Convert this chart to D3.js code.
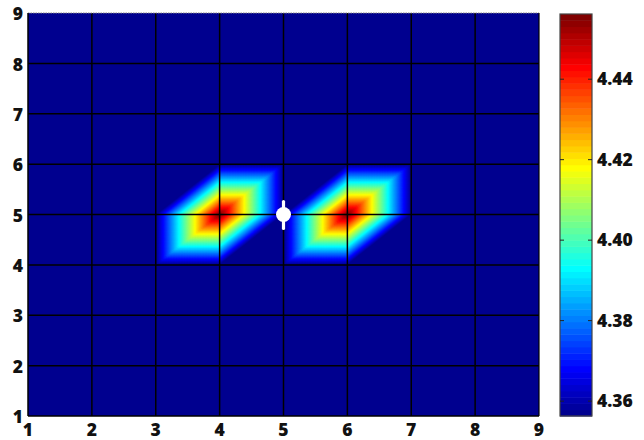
<!DOCTYPE html>
<html>
<head>
<meta charset="utf-8">
<script src="https://cdn.jsdelivr.net/npm/d3@7"></script>
<style>
  html, body { margin: 0; padding: 0; background: #fff; }
  svg { display: block; }
  text { font-family: "Open Sans", "Liberation Sans", sans-serif; font-weight: 800; font-size: 17.5px; fill: #111; }
</style>
</head>
<body>
<svg id="chart" width="644" height="440"></svg>
<script>
// Mesh nodes and field values (rows go from y = 1 upward to y = 9)
const gridX = [1, 2, 3, 4, 5, 6, 7, 8, 9];
const gridY = [1, 2, 3, 4, 5, 6, 7, 8, 9];
const B = 4.3563, P = 4.4562;
const zRows = [
  [B, B, B, B, B, B, B, B, B],
  [B, B, B, B, B, B, B, B, B],
  [B, B, B, B, B, B, B, B, B],
  [B, B, B, B, B, B, B, B, B],
  [B, B, B, P, B, P, B, B, B],
  [B, B, B, B, B, B, B, B, B],
  [B, B, B, B, B, B, B, B, B],
  [B, B, B, B, B, B, B, B, B],
  [B, B, B, B, B, B, B, B, B]
];
// Source marker sitting between the two peaks
const marker = { x: 5, y: 5 };
const xTicks = [1, 2, 3, 4, 5, 6, 7, 8, 9];
const yTicks = [1, 2, 3, 4, 5, 6, 7, 8, 9];
const cbTicks = [4.36, 4.38, 4.40, 4.42, 4.44];
const nColors = 64;

const svg = d3.select("#chart");
const plot = { left: 28, top: 13, right: 539, bottom: 416 };
const cbar = { left: 560, right: 592, top: 14, bottom: 416 };

const x = d3.scaleLinear().domain([1, 9]).range([plot.left, plot.right]);
const y = d3.scaleLinear().domain([1, 9]).range([plot.bottom, plot.top]);

const allZ = zRows.flat();
const cLim = d3.extent(allZ);

// MATLAB-style jet colormap with 64 entries
function jet(t) {
  const c = v => Math.max(0, Math.min(1, v));
  const r = c(1.5 - Math.abs(4 * t - 3));
  const g = c(1.5 - Math.abs(4 * t - 2));
  const b = c(1.5 - Math.abs(4 * t - 1));
  return d3.rgb(r * 255, g * 255, b * 255).toString();
}
const palette = d3.range(nColors).map(i => jet((i + 1) / nColors));
const colorIndex = d3.scaleQuantize().domain(cLim).range(d3.range(nColors));

// Piecewise-linear interpolation on triangles split along the (1,1) diagonal
function fieldAt(px, py) {
  let i = Math.min(Math.floor(px - gridX[0]), gridX.length - 2);
  let j = Math.min(Math.floor(py - gridY[0]), gridY.length - 2);
  const fx = px - gridX[i], fy = py - gridY[j];
  const z00 = zRows[j][i], z10 = zRows[j][i + 1], z01 = zRows[j + 1][i], z11 = zRows[j + 1][i + 1];
  if (fx >= fy) return z00 + fx * (z10 - z00) + fy * (z11 - z10);
  return z00 + fy * (z01 - z00) + fx * (z11 - z01);
}

const step = 1 / 40;
const nx = Math.round((gridX[gridX.length - 1] - gridX[0]) / step) + 1;
const ny = Math.round((gridY[gridY.length - 1] - gridY[0]) / step) + 1;
const samples = new Float64Array(nx * ny);
for (let r = 0; r < ny; r++) {
  const py = gridY[gridY.length - 1] - r * step;
  for (let cI = 0; cI < nx; cI++) {
    samples[r * nx + cI] = fieldAt(gridX[0] + cI * step, py);
  }
}

svg.append("clipPath").attr("id", "plotClip")
  .append("rect")
  .attr("x", plot.left).attr("y", plot.top)
  .attr("width", plot.right - plot.left).attr("height", plot.bottom - plot.top);

const field = svg.append("g").attr("clip-path", "url(#plotClip)");
field.append("rect")
  .attr("x", plot.left).attr("y", plot.top)
  .attr("width", plot.right - plot.left).attr("height", plot.bottom - plot.top)
  .attr("fill", palette[0]);

const span = cLim[1] - cLim[0];
const thresholds = d3.range(1, nColors).map(k => cLim[0] + (k / nColors) * span);
const contours = d3.contours().size([nx, ny]).thresholds(thresholds)(samples);
const toScreen = p => [x(gridX[0] + (p[0] - 0.5) * step), y(gridY[gridY.length - 1] - (p[1] - 0.5) * step)];
contours.forEach(c => {
  c.coordinates = c.coordinates.map(poly => poly.map(ring => ring.map(toScreen)));
});
const path = d3.geoPath();
field.selectAll("path.band")
  .data(contours.filter(c => c.coordinates.length))
  .join("path")
  .attr("class", "band")
  .attr("d", path)
  .attr("fill", d => palette[Math.min(nColors - 1, colorIndex(d.value + span * 1e-6))])
  .attr("stroke", d => palette[Math.min(nColors - 1, colorIndex(d.value + span * 1e-6))])
  .attr("stroke-width", 0.4);

// Grid lines
const grid = svg.append("g");
grid.selectAll("line.gx").data(xTicks.slice(1, -1)).join("line")
  .attr("x1", d => x(d)).attr("x2", d => x(d))
  .attr("y1", plot.top).attr("y2", plot.bottom)
  .attr("stroke", "#000").attr("stroke-width", 1.5);
grid.selectAll("line.gy").data(yTicks.slice(1, -1)).join("line")
  .attr("y1", d => y(d)).attr("y2", d => y(d))
  .attr("x1", plot.left).attr("x2", plot.right)
  .attr("stroke", "#000").attr("stroke-width", 1.5);

// Marker
const mk = svg.append("g").attr("fill", "#fff").attr("stroke", "#fff");
mk.append("line")
  .attr("x1", x(marker.x)).attr("x2", x(marker.x))
  .attr("y1", y(marker.y) - 13).attr("y2", y(marker.y) + 14)
  .attr("stroke-width", 3.2).attr("stroke-linecap", "round");
mk.append("circle").attr("cx", x(marker.x)).attr("cy", y(marker.y)).attr("r", 7.5).attr("stroke", "none");

// Axes box
svg.append("line").attr("x1", plot.left).attr("x2", plot.right).attr("y1", plot.top).attr("y2", plot.top)
  .attr("stroke", "#888").attr("stroke-width", 1).attr("stroke-dasharray", "1.5,1");
svg.append("line").attr("x1", plot.left).attr("x2", plot.left).attr("y1", plot.top).attr("y2", plot.bottom)
  .attr("stroke", "#000").attr("stroke-width", 1.5);
svg.append("line").attr("x1", plot.right).attr("x2", plot.right).attr("y1", plot.top).attr("y2", plot.bottom)
  .attr("stroke", "#000").attr("stroke-width", 1.2);
svg.append("line").attr("x1", plot.left).attr("x2", plot.right).attr("y1", plot.bottom).attr("y2", plot.bottom)
  .attr("stroke", "#000").attr("stroke-width", 1.5);

// Tick labels
svg.append("g").selectAll("text").data(xTicks).join("text")
  .attr("x", d => x(d)).attr("y", 430).attr("dy", "0.35em")
  .attr("text-anchor", "middle").text(d => d);
svg.append("g").selectAll("text").data(yTicks).join("text")
  .attr("x", 23).attr("y", d => y(d) + 1).attr("dy", "0.35em")
  .attr("text-anchor", "end").text(d => d);

// Colorbar
const cy = d3.scaleLinear().domain(cLim).range([cbar.bottom, cbar.top]);
const bandH = (cbar.bottom - cbar.top) / nColors;
const cb = svg.append("g");
cb.selectAll("rect").data(palette).join("rect")
  .attr("x", cbar.left).attr("width", cbar.right - cbar.left)
  .attr("y", (d, i) => cbar.bottom - (i + 1) * bandH)
  .attr("height", bandH + 0.5)
  .attr("fill", d => d);
cb.append("rect")
  .attr("x", cbar.left).attr("y", cbar.top)
  .attr("width", cbar.right - cbar.left).attr("height", cbar.bottom - cbar.top)
  .attr("fill", "none").attr("stroke", "#444").attr("stroke-width", 1.2);
const cbAxis = cb.append("g");
cbAxis.selectAll("line.tl").data(cbTicks).join("line")
  .attr("x1", cbar.left).attr("x2", cbar.left + 4)
  .attr("y1", d => cy(d)).attr("y2", d => cy(d))
  .attr("stroke", "#222").attr("stroke-width", 1);
cbAxis.selectAll("line.tr").data(cbTicks).join("line")
  .attr("x1", cbar.right - 4).attr("x2", cbar.right)
  .attr("y1", d => cy(d)).attr("y2", d => cy(d))
  .attr("stroke", "#222").attr("stroke-width", 1);
cbAxis.selectAll("text").data(cbTicks).join("text")
  .attr("x", 597).attr("y", d => cy(d)).attr("dy", "0.35em")
  .text(d => d3.format(".2f")(d));
</script>
</body>
</html>
